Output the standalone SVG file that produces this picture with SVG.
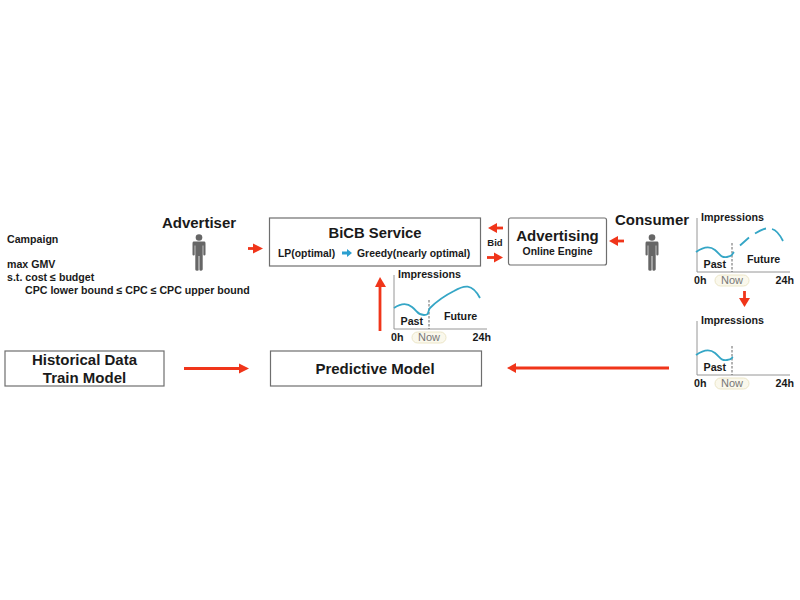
<svg xmlns="http://www.w3.org/2000/svg" width="800" height="600" viewBox="0 0 800 600">
<style>
text{font-family:"Liberation Sans",Arial,sans-serif;font-weight:bold;fill:#1a1a1a}
.box{fill:#fff;stroke:#6e6e6e;stroke-width:1.2}
.m{text-anchor:middle}
.t11{font-size:10.400px}.t10{font-size:9.500px}.t12{font-size:10.700px}.tc{font-size:10.640px}
.t14{font-size:15px}.t16{font-size:14.800px}
.ax{fill:none;stroke:#8a8a8a;stroke-width:.9}
.cv{fill:none;stroke:#35a6c6;stroke-width:1.800}
.dash{fill:none;stroke:#555;stroke-width:.9;stroke-dasharray:2.500 1.500}
.pill{fill:#faf8ec;stroke:#ece6c8;stroke-width:1}
.now{fill:#777;font-size:11px;font-weight:normal;text-anchor:middle}
.ar{fill:none;stroke:#f0351a;stroke-width:2.800}
.hd{fill:#f0351a}
.person{fill:#666}
</style>
<defs>
<g id="person" class="person">
<circle cx="0" cy="-14.500" r="3.300"/>
<path d="M-5.500-10.500Q-6.500-10.500-6.500-8.500V2.500Q-6.500 3.500-5.300 3.500T-4.300 2.500V-6.500H-3.700V17.500Q-3.700 18.800-1.800 18.800T-.4 17.500V4H.4V17.500Q.4 18.800 1.800 18.800T3.700 17.500V-6.500H4.300V2.500Q4.300 3.500 5.300 3.500T6.500 2.500V-8.500Q6.500-10.500 5.500-10.500Z"/>
</g>
<g id="chartbase">
<path class="ax" d="M0-54V0H93"/>
<rect class="pill" x="18" y="3" width="34" height="11" rx="5.500"/>
<text class="now" x="35" y="12">Now</text>
<text class="t12" x="4" y="-51">Impressions</text>
<text class="t12" x="6.500" y="-4">Past</text>
<text class="t12" x="-3" y="12">0h</text>
<text class="t12" x="78.500" y="12">24h</text>
<path class="dash" d="M35-29V0"/>
</g>
</defs>

<g id="campaign">
<text class="tc" x="7" y="243">Campaign</text>
<text class="tc" x="7" y="268">max GMV</text>
<text class="tc" x="7" y="281">s.t. cost ≤ budget</text>
<text class="tc" x="25" y="294">CPC lower bound ≤ CPC ≤ CPC upper bound</text>
</g>
<g id="advertiser">
<text class="t14 m" x="199" y="228">Advertiser</text>
<use href="#person" x="199" y="252"/>
</g>
<g id="consumer">
<text class="t14 m" x="652" y="225">Consumer</text>
<use href="#person" x="652" y="252"/>
</g>
<g id="bicb">
<rect class="box" x="269.500" y="218" width="211" height="48"/>
<text class="t16 m" x="375" y="237.500">BiCB Service</text>
<text class="t11" x="278" y="257">LP(optimal)</text>
<path fill="#2b9fd0" d="M342 251.500h5v-2.500l5 4-5 4v-2.500h-5z"/>
<text class="t11" x="357" y="257">Greedy(nearly optimal)</text>
</g>
<g id="advertising">
<rect class="box" x="508.500" y="218" width="98" height="47" rx="2"/>
<text class="t14 m" x="557.500" y="241">Advertising</text>
<text class="t11 m" x="557.500" y="255">Online Engine</text>
</g>
<g id="historical">
<rect class="box" x="5" y="351" width="159" height="35"/>
<text class="t14 m" x="84.500" y="365">Historical Data</text>
<text class="t14 m" x="84.500" y="383">Train Model</text>
</g>
<g id="predictive">
<rect class="box" x="270.500" y="351" width="211" height="35"/>
<text class="t14 m" x="375" y="374">Predictive Model</text>
</g>
<g id="chart-center" transform="translate(394 329)">
<use href="#chartbase"/>
<path class="cv" d="M0-21C6-25 12-27 18-22S24-14 30-14 33-17 36-21C44-29 52-34 60-38 70-44 78-46 86-31"/>
<text class="t12" x="50" y="-9">Future</text>
</g>
<g id="chart-top" transform="translate(697 272)">
<use href="#chartbase"/>
<path class="cv" d="M-1-20C6-25 12-27 18-22S24-14 30-15 34-17 37-20"/>
<path class="cv" d="M43-26.500 52-34.500M58-38.500C62-41 66-43 69-43.500M75-43C79-42 83-37 86-31"/>
<text class="t12" x="50" y="-9">Future</text>
</g>
<g id="chart-bottom" transform="translate(697 375)">
<use href="#chartbase"/>
<path class="cv" d="M-1-20C6-25 12-27 18-22S24-14 30-15 34-17 36-18"/>
</g>

<g id="connectors">
<path class="ar" d="M248 248.500H254"/><path class="hd" d="M253 243.500L263 248.500 253 253.500Z"/>
<path class="ar" d="M496 228H503"/><path class="hd" d="M497 223L488 228 497 233Z"/>
<path class="ar" d="M487 257.500H495"/><path class="hd" d="M494 252.500L503 257.500 494 262.500Z"/>
<path class="ar" d="M616 241H624"/><path class="hd" d="M618 236L609 241 618 246Z"/>
<path class="ar" d="M380 331V284"/><path class="hd" d="M375 287L380 277 386 287Z"/>
<path class="ar" d="M184 368.500H240"/><path class="hd" d="M239 363.500L249 368.500 239 373.500Z"/>
<path class="ar" d="M669 368H514"/><path class="hd" d="M516 363L507 368 516 373Z"/>
<path class="ar" d="M744.500 291V300"/><path class="hd" d="M739 298L744.500 307 750 298Z"/>
<text class="t10 m" x="495" y="246">Bid</text>
</g>
</svg>
